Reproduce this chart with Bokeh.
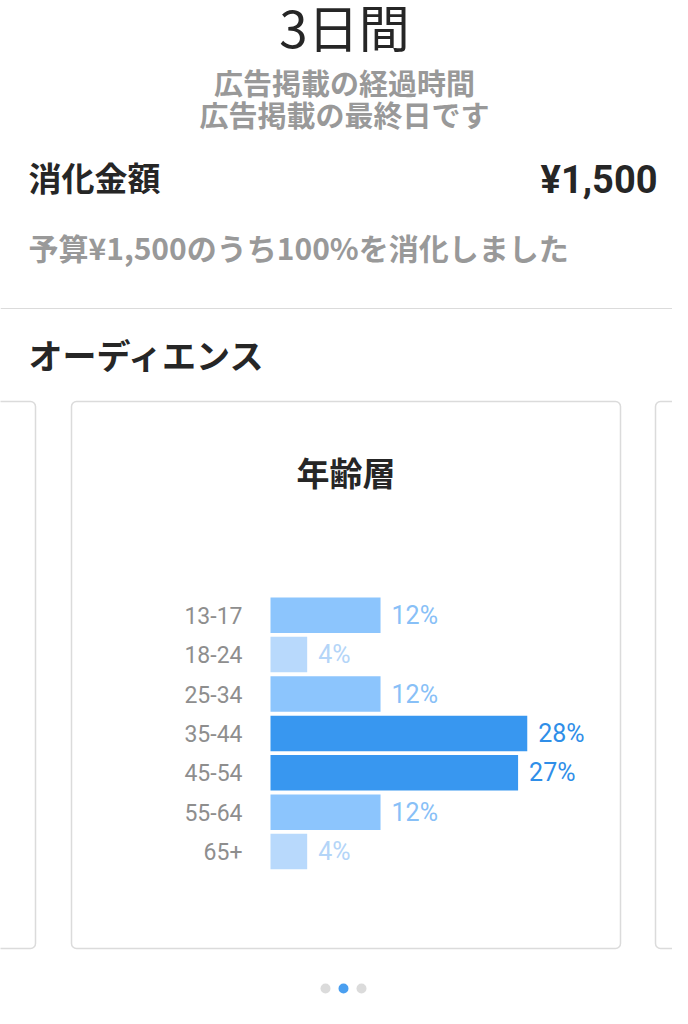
from bokeh.plotting import figure
from bokeh.models import Range1d, ColumnDataSource
from bokeh.core.properties import value
from bokeh.embed import file_html
from bokeh.resources import INLINE

# データ
age_groups = ["13-17", "18-24", "25-34", "35-44", "45-54", "55-64", "65+"]
shares = [12, 4, 12, 28, 27, 12, 4]
share_labels = [f"{s}%" for s in shares]

duration_text = "3日間"
subtitle_lines = ["広告掲載の経過時間", "広告掲載の最終日です"]
spent_title = "消化金額"
spent_amount = "¥1,500"
spent_note = "予算¥1,500のうち100%を消化しました"
audience_title = "オーディエンス"
card_title = "年齢層"

JP = "Noto Sans CJK JP"
LATIN = "Roboto"
DARK = "#262626"
GRAY = "#999999"
BORDER = "#dbdbdb"

# 棒グラフの配置 (ページ座標)
BAR_X0 = 270
PX_PER_PCT = 9.17
ROW0 = 614.7
ROW_STEP = 39.4


def tier_colors(s):
    if s >= 20:
        return "#3897f0", "#2f8ee8"
    if s >= 10:
        return "#8cc5fd", "#88c0f7"
    return "#b8d9fc", "#b4d5f8"


bar_colors = [tier_colors(s)[0] for s in shares]
text_colors = [tier_colors(s)[1] for s in shares]

W, H = 672, 1008
p = figure(width=W, height=H, x_range=Range1d(0, W), y_range=Range1d(H, 0),
           output_backend="svg", toolbar_location=None, min_border=0,
           x_axis_location=None, y_axis_location=None)
p.grid.visible = False
p.outline_line_color = None
p.background_fill_color = "white"

p.extra_x_ranges = {"pct": Range1d(start=-BAR_X0 / PX_PER_PCT, end=(W - BAR_X0) / PX_PER_PCT)}
p.extra_y_ranges = {"row": Range1d(start=(H - ROW0) / ROW_STEP, end=-ROW0 / ROW_STEP)}


def label(x, y, text, size, color, align="left", style="normal", font=JP, baseline="middle"):
    p.text(x=[x], y=[y], text=[text], text_font=value(font), text_font_size=f"{size}px",
           text_color=color, text_align=align, text_baseline=baseline, text_font_style=style)


# ヘッダー
label(344, 25, duration_text, 51, DARK, align="center", baseline="alphabetic")
label(344, 81, subtitle_lines[0], 29, GRAY, align="center", style="bold")
label(344, 113, subtitle_lines[1], 29, GRAY, align="center", style="bold")

label(28, 176, spent_title, 33, DARK, style="bold")
label(657, 179, spent_amount, 38, DARK, align="right", style="bold", font=LATIN)
label(28, 246, spent_note, 30, GRAY, style="bold")

p.segment(x0=[0], x1=[W], y0=[308], y1=[308], line_color=BORDER, line_width=1)

label(28, 354, audience_title, 34, DARK, style="bold")

# カード
p.quad(left=[-480, 71, 655], right=[35, 620, 1200], top=[401] * 3, bottom=[948] * 3,
       fill_color="white", line_color=BORDER, line_width=1.5, border_radius=5)

label(296, 471, card_title, 33, DARK, style="bold")

src = ColumnDataSource(dict(row=list(range(len(age_groups))), age=age_groups, share=shares,
                            lbl=share_labels, color=bar_colors, tcolor=text_colors))

p.hbar(y="row", left=0, right="share", height=0.9, fill_color="color", line_color=None,
       source=src, x_range_name="pct", y_range_name="row")
p.text(x=0, y="row", text="age", x_offset=-28, text_align="right", text_baseline="middle",
       text_font=value(LATIN), text_font_size="23px", text_color="#8e8e8e",
       source=src, x_range_name="pct", y_range_name="row")
p.text(x="share", y="row", text="lbl", x_offset=11, text_align="left", text_baseline="middle",
       text_font=value(LATIN), text_font_size="25px", text_color="tcolor",
       source=src, x_range_name="pct", y_range_name="row")

# ページインジケーター
p.scatter(x=[325, 343, 361], y=[988] * 3, size=10, line_color=None,
          fill_color=[BORDER, "#4a9ff0", BORDER])

open("out.html", "w").write(file_html(p, INLINE))
